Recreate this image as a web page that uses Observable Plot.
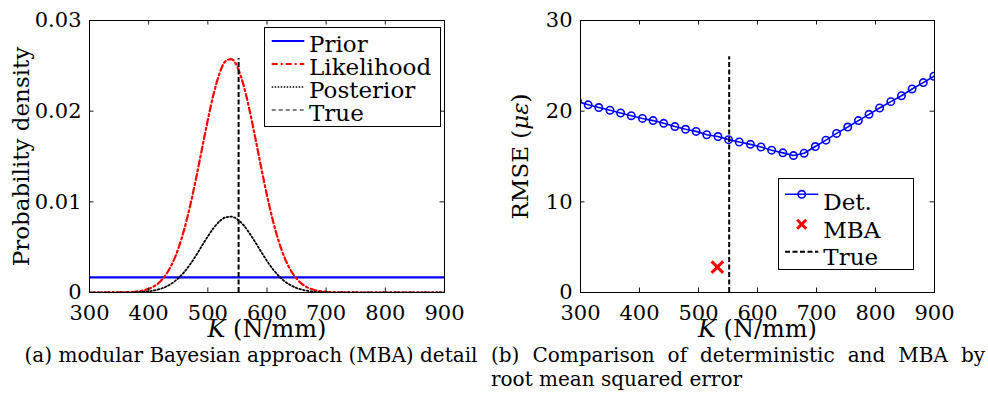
<!DOCTYPE html>
<html>
<head>
<meta charset="utf-8">
<script src="https://cdn.jsdelivr.net/npm/d3@7"></script>
<script src="https://cdn.jsdelivr.net/npm/@observablehq/plot@0.6"></script>
<style>
  html, body { margin: 0; padding: 0; background: white; }
  #root { position: relative; width: 988px; height: 398px; overflow: hidden; font-family: "DejaVu Serif", serif; color: black; }
  .abs { position: absolute; }
  .cap { font-size: 20px; line-height: 20px; white-space: nowrap; }
</style>
</head>
<body>
<div id="root">
  <div id="left" class="abs" style="left:0;top:0"></div>
  <div id="right" class="abs" style="left:490px;top:0"></div>
  <svg class="abs" style="left:264px;top:27px" width="177" height="100" font-family="DejaVu Serif" font-size="23">
    <rect x="0.5" y="0.5" width="176" height="99" fill="white" stroke="black" stroke-width="1"/>
    <line x1="7.7" x2="40.3" y1="14" y2="14" stroke="#0000ff" stroke-width="2.2"/>
    <line x1="7.7" x2="40.3" y1="37" y2="37" stroke="#ff0000" stroke-width="2.2" stroke-dasharray="6,3,2,3"/>
    <line x1="7.7" x2="40.3" y1="60" y2="60" stroke="black" stroke-width="1.5" stroke-dasharray="1.5,1.5"/>
    <line x1="7.7" x2="40.3" y1="83" y2="83" stroke="black" stroke-width="1.1" stroke-dasharray="4,3"/>
    <text x="45" y="24.7">Prior</text>
    <text x="45" y="47.7">Likelihood</text>
    <text x="45" y="70.7">Posterior</text>
    <text x="45" y="93.7">True</text>
  </svg>
  <svg class="abs" style="left:778px;top:178px" width="137" height="93" font-family="DejaVu Serif" font-size="23">
    <rect x="0.5" y="0.5" width="135" height="91" fill="white" stroke="black" stroke-width="1"/>
    <line x1="7" x2="40.3" y1="16.3" y2="16.3" stroke="#0000ff" stroke-width="1.6"/>
    <circle cx="23.7" cy="16.3" r="3.7" fill="none" stroke="#0000ff" stroke-width="1.6"/>
    <line x1="19.2" x2="28.2" y1="41.8" y2="50.8" stroke="#ff0000" stroke-width="3"/>
    <line x1="19.2" x2="28.2" y1="50.8" y2="41.8" stroke="#ff0000" stroke-width="3"/>
    <line x1="7" x2="40.3" y1="73.7" y2="73.7" stroke="black" stroke-width="2" stroke-dasharray="5,2.5"/>
    <text x="45.3" y="32">Det.</text>
    <text x="45.3" y="60.3">MBA</text>
    <text x="45.3" y="87">True</text>
  </svg>
  <div class="abs cap" style="left:0;width:502px;top:344.8px;text-align:center">(a) modular Bayesian approach (MBA) detail</div>
  <div class="abs cap" style="left:491px;width:494px;top:344.8px;text-align:justify;text-align-last:justify;white-space:normal">(b) Comparison of deterministic and MBA by</div>
  <div class="abs cap" style="left:491px;top:369.1px">root mean squared error</div>
</div>
<script>
// ---------- data ----------
const xTicks = [300, 400, 500, 600, 700, 800, 900];
const densityTicks = [0, 0.01, 0.02, 0.03];
const rmseTicks = [0, 10, 20, 30];

// (a) densities over stiffness K (N/mm)
const kGrid = [300, 340, 350, 360, 370, 380, 390, 400, 410, 420, 430, 440, 450, 460, 470, 480, 490, 500, 510, 520, 530, 540, 550, 560, 570, 580, 590, 600, 610, 620, 630, 640, 650, 660, 670, 680, 690, 700, 720, 740, 900];
const likelihoodPdf = [0, 0.000005, 0.000011, 0.000025, 0.000053, 0.000109, 0.000215, 0.000403, 0.000723, 0.00124, 0.00204, 0.00321, 0.00482, 0.00694, 0.00954, 0.01256, 0.01581, 0.01905, 0.02195, 0.02420, 0.02552, 0.02575, 0.02485, 0.02295, 0.02027, 0.01713, 0.01384, 0.01071, 0.00792, 0.00561, 0.00380, 0.00246, 0.00152, 0.00090, 0.00051, 0.00028, 0.00014, 0.00007, 0.000015, 0.000003, 0];
const posteriorPdf = [0, 0.0000015, 0.0000036, 0.0000081, 0.000017, 0.000036, 0.00007, 0.000131, 0.000235, 0.000403, 0.000663, 0.00104, 0.00157, 0.00225, 0.0031, 0.00408, 0.00514, 0.00619, 0.00713, 0.00786, 0.00829, 0.00836, 0.00807, 0.00745, 0.00658, 0.00556, 0.0045, 0.00348, 0.00257, 0.00182, 0.00123, 0.0008, 0.000495, 0.000293, 0.000166, 0.00009, 0.000047, 0.000023, 0.000005, 0.000001, 0];
const priorK = [300, 900];
const priorPdf = [0.00167, 0.00167];
const trueK = 552;
const trueTopDensity = 0.0258;

// (b) RMSE of deterministic identification and MBA
const kDet = [295, 313, 331, 350, 368, 386, 405, 423, 441, 460, 478, 496, 514, 533, 551, 569, 588, 606, 624, 643, 661, 679, 698, 716, 734, 753, 771, 789, 807, 826, 844, 862, 881, 899];
const rmseDet = [21.1, 20.7, 20.4, 20.1, 19.8, 19.5, 19.2, 18.96, 18.66, 18.3, 18.0, 17.77, 17.4, 17.2, 16.86, 16.6, 16.34, 16.05, 15.7, 15.4, 15.1, 15.36, 16.1, 16.8, 17.55, 18.25, 18.96, 19.65, 20.35, 21.05, 21.7, 22.45, 23.15, 23.85];
const kMBA = [532];
const rmseMBA = [2.8];
const trueTopRmse = 26;

// ---------- tables ----------
const densRows = kGrid.map((k, i) => ({k, lik: likelihoodPdf[i], post: posteriorPdf[i]}));
const priorRows = priorK.map((k, i) => ({k, p: priorPdf[i]}));
const detRows = kDet.map((k, i) => ({k, r: rmseDet[i]}));
const mbaRows = kMBA.map((k, i) => ({k, r: rmseMBA[i]}));

const FONT = "DejaVu Serif";
const TICK = 4.5;

function boxTicks(innerW, innerH, yTicks) {
  const s = {stroke: "black", strokeWidth: 0.9};
  return [
    Plot.tickX(xTicks, {x: d => d, insetTop: innerH - TICK, ...s}),
    Plot.tickX(xTicks, {x: d => d, insetBottom: innerH - TICK, ...s}),
    Plot.tickY(yTicks, {y: d => d, insetRight: innerW - TICK, ...s}),
    Plot.tickY(yTicks, {y: d => d, insetLeft: innerW - TICK, ...s})
  ];
}

// ---------- (a) ----------
const L = {w: 494, h: 340, ml: 89, mr: 50, mt: 20, mb: 48};
const left = Plot.plot({
  width: L.w, height: L.h,
  marginLeft: L.ml, marginRight: L.mr, marginTop: L.mt, marginBottom: L.mb,
  style: {fontFamily: FONT, background: "transparent", color: "black", overflow: "visible"},
  x: {domain: [300, 900]},
  y: {domain: [0, 0.03]},
  marks: [
    Plot.line(priorRows, {x: "k", y: "p", stroke: "#0000ff", strokeWidth: 2.2, clip: true}),
    Plot.line(densRows, {x: "k", y: "lik", stroke: "#ff0000", strokeWidth: 2.2, strokeDasharray: "6,3,2,3", curve: "monotone-x", clip: true}),
    Plot.line(densRows, {x: "k", y: "post", stroke: "black", strokeWidth: 1.8, strokeDasharray: "1.6,2.2", curve: "monotone-x", clip: true}),
    Plot.ruleX([trueK], {x: d => d, y1: 0, y2: trueTopDensity, stroke: "black", strokeWidth: 2, strokeDasharray: "5,2.5"}),
    Plot.frame({stroke: "black", strokeWidth: 1}),
    ...boxTicks(L.w - L.ml - L.mr, L.h - L.mt - L.mb, densityTicks),
    Plot.axisX({ticks: xTicks, tickSize: 0, tickPadding: 13, fontSize: 21, label: null, tickFormat: d => String(d)}),
    Plot.axisY({ticks: densityTicks, tickSize: 0, tickPadding: 8, fontSize: 21, label: null, tickFormat: d => d === 0 ? "0" : d.toFixed(2)}),
    Plot.text(["Probability density"], {text: d => d, frameAnchor: "left", textAnchor: "middle", dx: -68, rotate: -90, lineAnchor: "middle", fontSize: 23, fill: "black"}),
    Plot.text(["K (N/mm)"], {text: d => d, frameAnchor: "bottom", textAnchor: "middle", dy: 37, lineAnchor: "middle", fontSize: 24, fill: "black"})
  ]
});

// ---------- (b) ----------
const R = {w: 498, h: 340, ml: 90, mr: 54, mt: 20, mb: 48};
const right = Plot.plot({
  width: R.w, height: R.h,
  marginLeft: R.ml, marginRight: R.mr, marginTop: R.mt, marginBottom: R.mb,
  style: {fontFamily: FONT, background: "transparent", color: "black", overflow: "visible"},
  x: {domain: [300, 900]},
  y: {domain: [0, 30]},
  marks: [
    Plot.line(detRows, {x: "k", y: "r", stroke: "#0000ff", strokeWidth: 1.6, clip: true}),
    Plot.dot(detRows, {x: "k", y: "r", r: 3.7, stroke: "#0000ff", strokeWidth: 1.6, fill: "none", clip: true}),
    Plot.dot(mbaRows, {x: "k", y: "r", symbol: "times", r: 5.3, stroke: "#ff0000", strokeWidth: 3}),
    Plot.ruleX([trueK], {x: d => d, y1: 0, y2: trueTopRmse, stroke: "black", strokeWidth: 2, strokeDasharray: "5,2.5"}),
    Plot.frame({stroke: "black", strokeWidth: 1}),
    ...boxTicks(R.w - R.ml - R.mr, R.h - R.mt - R.mb, rmseTicks),
    Plot.axisX({ticks: xTicks, tickSize: 0, tickPadding: 13, fontSize: 21, label: null, tickFormat: d => String(d)}),
    Plot.axisY({ticks: rmseTicks, tickSize: 0, tickPadding: 8, fontSize: 21, label: null, tickFormat: d => String(d)}),
    Plot.text(["RMSE (με)"], {text: d => d, frameAnchor: "left", textAnchor: "middle", dx: -60, rotate: -90, lineAnchor: "middle", fontSize: 23, fill: "black"}),
    Plot.text(["K (N/mm)"], {text: d => d, frameAnchor: "bottom", textAnchor: "middle", dy: 37, lineAnchor: "middle", fontSize: 24, fill: "black"})
  ]
});

// italic math parts in the axis labels
function styleLabel(svg, full, parts) {
  svg.querySelectorAll("text").forEach(t => {
    if (t.textContent === full) {
      t.textContent = "";
      parts.forEach(([s, it]) => {
        const ts = document.createElementNS("http://www.w3.org/2000/svg", "tspan");
        ts.textContent = s;
        if (it) ts.setAttribute("font-style", "italic");
        t.appendChild(ts);
      });
    }
  });
}
styleLabel(left, "K (N/mm)", [["K", true], [" (N/mm)", false]]);
styleLabel(right, "K (N/mm)", [["K", true], [" (N/mm)", false]]);
styleLabel(right, "RMSE (με)", [["RMSE (", false], ["με", true], [")", false]]);

document.getElementById("left").appendChild(left);
document.getElementById("right").appendChild(right);
</script>
</body>
</html>
